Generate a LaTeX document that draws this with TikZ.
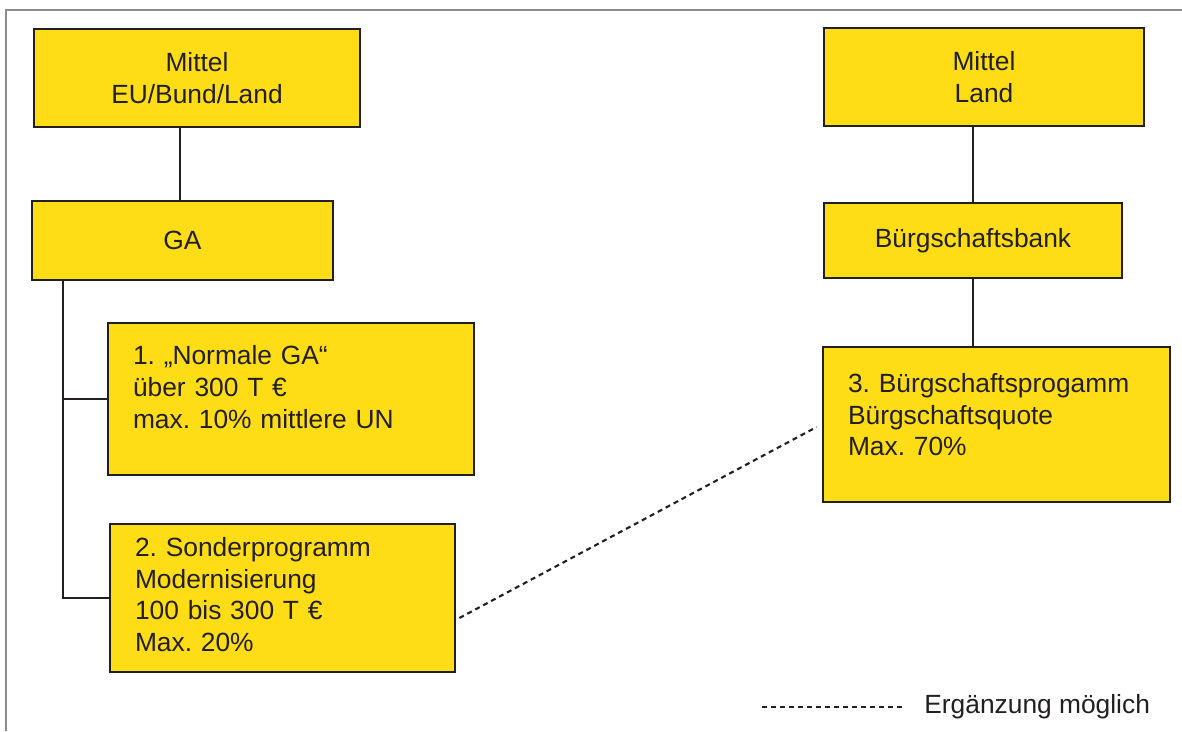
\documentclass[tikz,border=0pt]{standalone}
\usepackage{fontspec}
\setmainfont{Liberation Sans}
\usetikzlibrary{positioning,calc}
\definecolor{GAYellow}{HTML}{FEDD17}
\definecolor{GADark}{HTML}{231F20}
\definecolor{GAFrame}{HTML}{8C8C8C}
\newcommand{\padbelow}[1]{\rule[-#1]{0pt}{#1}}
\frenchspacing
\tikzset{
 gabox/.style={draw=GADark,line width=1.6pt,fill=GAYellow,text=GADark,inner sep=0pt,align=center,font=\fontsize{15}{18}\selectfont},
 progbox/.style={gabox,align=left,inner xsep=0.5cm,text width=#1},
 link/.style={draw=GADark,line width=1.2pt},
 maybe/.style={link,dash pattern=on 0.1cm off 0.08cm},
}
\begin{document}
\begin{tikzpicture}[x=0.02cm,y=-0.02cm]
\useasboundingbox (0,0) rectangle (1182,731);
% frame
\draw[GAFrame,line width=0.6pt] (6,731) -- (6,10) -- (1182,10);
% left column
\node[gabox,minimum width=6.52cm,minimum height=1.96cm] (mittelA) at (197,78) {Mittel\\EU/Bund/Land};
\node[gabox,minimum width=6.02cm,minimum height=1.58cm] (ga) at (182.5,240.5) {GA};
\node[progbox=6.32cm,minimum height=3.04cm] (prog1) at (291,399) {1. „Normale GA“\\über 300 T €\\max. 10\% mittlere UN\padbelow{0.48cm}};
\node[progbox=5.9cm,minimum height=2.96cm] (prog2) at (282.5,598) {2. Sonderprogramm\\Modernisierung\\100 bis 300 T €\\Max. 20\%\padbelow{0.14cm}};
% right column
\node[gabox,minimum width=6.4cm,minimum height=1.96cm] (mittelB) at (984,77) {Mittel\\Land};
\node[gabox,minimum width=5.96cm,minimum height=1.5cm] (bank) at (973,240.5) {Bürgschaftsbank};
\node[progbox=5.94cm,minimum height=3.1cm] (prog3) at (996.5,424.5) {3. Bürgschaftsprogamm\\Bürgschaftsquote\\Max. 70\%\padbelow{0.4cm}};
% connectors
\coordinate (trunk) at (63,280);
\draw[link] ([xshift=-0.05cm]ga.north) -- ([xshift=-0.05cm]ga.north |- mittelA.south);
\draw[link] (trunk) |- (prog1.west);
\draw[link] (trunk) |- (prog2.west);
\draw[link] (bank.north) -- (bank.north |- mittelB.south);
\draw[link] (bank.south) -- (bank.south |- prog3.north);
\draw[maybe] ([xshift=0.06cm,yshift=-0.4cm]prog2.east) -- ([xshift=-0.1cm,yshift=-0.05cm]prog3.west);
% legend
\node[font=\fontsize{15}{18}\selectfont,text=GADark,inner sep=0pt,anchor=west] (legend) at (924,707) {Ergänzung möglich};
\coordinate (legstart) at (762,707);
\draw[maybe] (legstart) -- ([xshift=-0.44cm]legend.west);
\end{tikzpicture}
\end{document}
